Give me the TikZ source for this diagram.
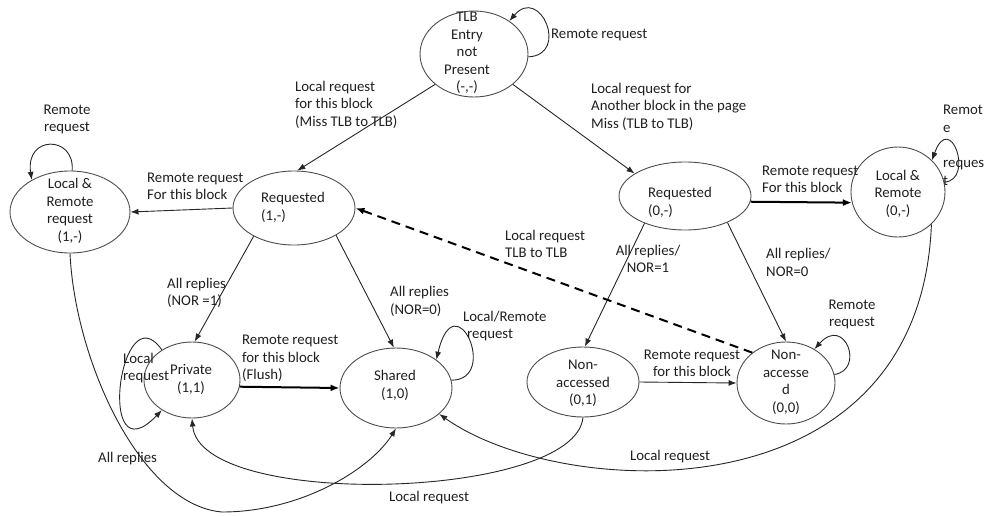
\documentclass[tikz,border=0pt]{standalone}
\usepackage{fontspec}
\setmainfont{Carlito}
\usetikzlibrary{arrows.meta,shapes.geometric}
\newcommand\myfs{\fontsize{14.8}{17.5}\selectfont}
\begin{document}
\begin{tikzpicture}[x=1pt,y=-1pt,
  st/.style={ellipse, draw=black!70, line width=0.9pt, inner sep=0pt},
  lbl/.style={inner sep=0pt, anchor=west, align=left, font=\myfs, text=black!88},
  txtc/.style={inner sep=0pt, align=center, font=\myfs, text=black!88},
  arr/.style={draw=black!85, line width=0.9pt, -{Latex[length=8pt,width=6pt]}},
  arrthick/.style={draw=black, line width=2pt, -{Latex[length=9pt,width=7pt]}},
  dasharr/.style={draw=black, line width=2pt, dash pattern=on 9pt off 6pt, -{Latex[length=9pt,width=7pt]}}]
\useasboundingbox (0,0) rectangle (989,515);

% states
\node[st, minimum width=108pt, minimum height=86pt] (tlb) at (474,54) {};
\node[txtc] at (467,53) {TLB\\Entry\\not\\Present\\(-,-)};
\node[st, minimum width=120pt, minimum height=82pt] (lr1) at (70,212) {};
\node[txtc] at (70,211) {Local \&\\Remote\\request\\(1,-)};
\node[st, minimum width=122pt, minimum height=74pt] (req1) at (294,208) {};
\node[lbl] at (261,207.5) {Requested\\(1,-)};
\node[st, minimum width=132pt, minimum height=68pt] (req0) at (685,196) {};
\node[lbl] at (648,202.5) {Requested\\(0,-)};
\node[st, minimum width=94pt, minimum height=90pt] (lr0) at (898,192) {};
\node[txtc] at (898,193.5) {Local \&\\Remote\\(0,-)};
\node[st, minimum width=96pt, minimum height=76pt] (priv) at (192,380) {};
\node[txtc] at (191,379.5) {Private\\(1,1)};
\node[st, minimum width=112pt, minimum height=80pt] (shar) at (396,388) {};
\node[txtc] at (395,385.5) {Shared\\(1,0)};
\node[st, minimum width=112pt, minimum height=70pt] (na1) at (583,382) {};
\node[txtc] at (583,383.5) {Non-\\accessed\\(0,1)};
\node[st, minimum width=98pt, minimum height=82pt] (na0) at (786,383) {};
\node[txtc] at (786,382.5) {Non-\\accesse\\d\\(0,0)};

% straight transitions
\draw[arr] (tlb.218) -- (req1.85);
\draw[arr] (tlb.322) -- (req0.156);
\draw[arr] (req1.west) -- (lr1.east);
\draw[arr] (req1.215) -- (priv.86);
\draw[arr] (req1.327) -- (shar.93);
\draw[arrthick] (priv.-8) -- (shar.west);
\draw[arrthick] (req0.-5) -- (lr0.193);
\draw[arr] (req0.214) -- (na1.87);
\draw[arr] (req0.328) -- (na0.north);
\draw[arr] (na1.east) -- (na0.west);
\draw[dasharr] (na0.138) -- (req1.east);

% long curves
\coordinate (sbot) at (222,512);
\draw[arr] (lr0.316) .. controls (920,520) and (560,500) .. (shar.329);
\draw[arr] (lr1.270) .. controls (75,360) and (140,505) .. (sbot) .. controls (300,512) and (370,470) .. (shar.270);
\draw[arr] (na1.270) .. controls (575,500) and (200,510) .. (priv.270);

% self loops
\draw[arr] (tlb.-3) .. controls (570,55) and (540,-15) .. (tlb.43);
\draw[arr] (lr1.87) .. controls (75,135) and (25,135) .. (lr1.140);
\draw[arr] (priv.135) .. controls (120,290) and (95,480) .. (priv.225);
\draw[arr] (shar.8) .. controls (500,380) and (455,280) .. (shar.35);
\draw[arr] (lr0.12) .. controls (975,180) and (950,110) .. (lr0.43);
\draw[arr] (na0.10) .. controls (865,370) and (845,315) .. (na0.50);

% labels
\node[lbl] (l1) at (551,35) {Remote request};
\node[lbl] (l2) at (295,104.5) {Local request\\for this block\\(Miss TLB to TLB)};
\node[lbl] (l3) at (591,106.5) {Local request for\\Another block in the page\\Miss (TLB to TLB)};
\node[txtc] (l4) at (67,119.5) {Remote\\request};
\node[lbl] (l5) at (147,186.5) {Remote request\\For this block};
\node[lbl] (l5b) at (762,179.5) {Remote request\\For this block};
\node[lbl] (l6) at (943,119) {Remot\\e};
\node[lbl] (l7) at (943,173) {reques\\t};
\node[lbl] (l8) at (505,244) {Local request\\TLB to TLB};
\node[lbl] (l9) at (167,293) {All replies\\(NOR =1)};
\node[lbl] (l10) at (390,301.5) {All replies\\(NOR=0)};
\node[lbl] (l11) at (463,326) {Local/Remote\\\hspace*{4pt}request};
\node[lbl] (l12) at (242,358.5) {Remote request\\for this block\\(Flush)};
\node[lbl] (l13) at (123,368) {Local\\request};
\node[txtc] (l14) at (648,259) {All replies/\\NOR=1};
\node[lbl] (l15) at (766,262.5) {All replies/\\NOR=0};
\node[txtc] (l16) at (692,363.5) {Remote request\\for this block};
\node[txtc] (l17) at (852,314.5) {Remote\\request};
\node[lbl] (l18) at (630,457) {Local request};
\node[lbl] (l19) at (389,498) {Local request};
\node[lbl] (l20) at (98,459) {All replies};
\end{tikzpicture}
\end{document}
